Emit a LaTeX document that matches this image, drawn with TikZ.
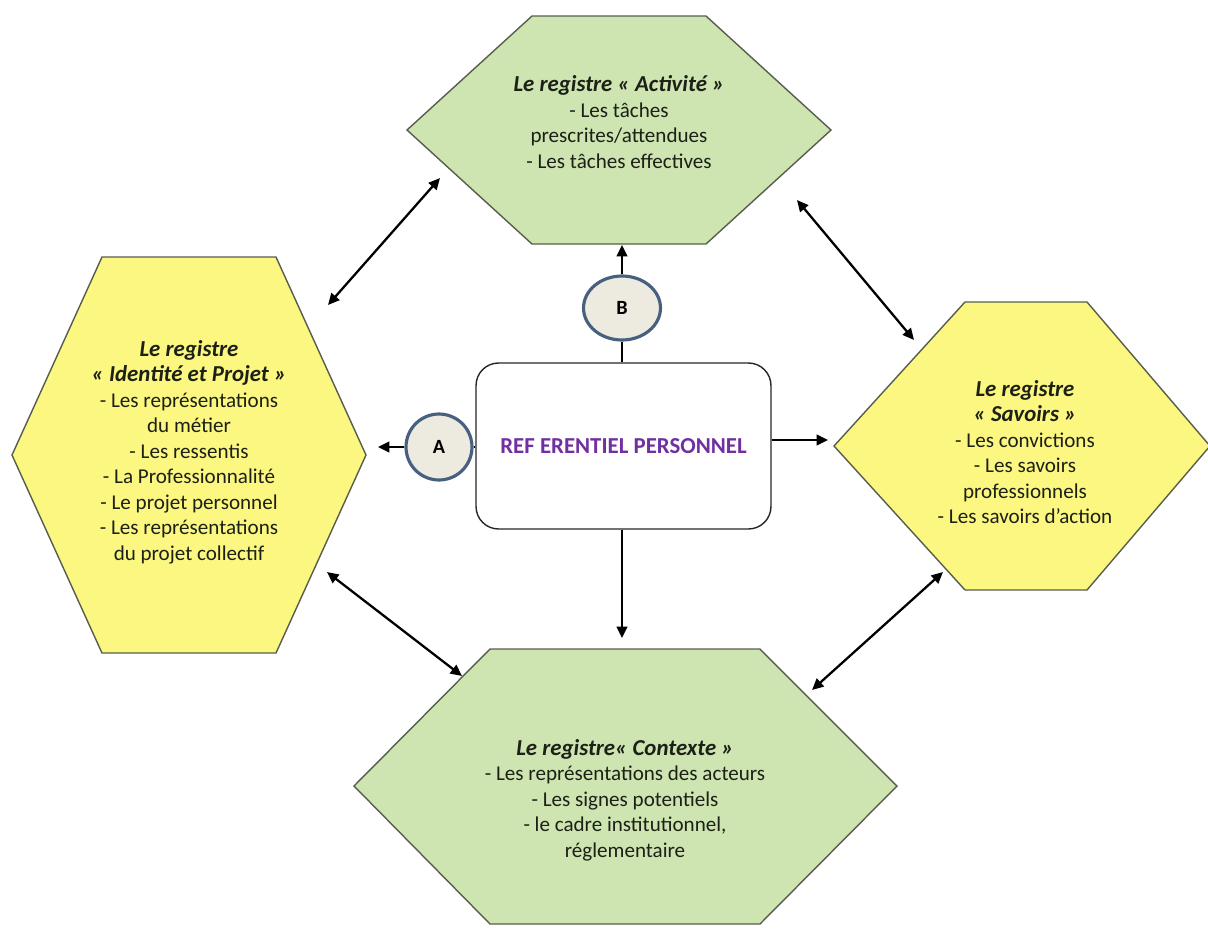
\documentclass[tikz,border=0pt]{standalone}
\usepackage{fontspec}
\setmainfont{Carlito}
\usepackage{xcolor}
\definecolor{leaf}{RGB}{206,229,178}
\definecolor{lemon}{RGB}{251,247,128}
\definecolor{rim}{RGB}{88,94,78}
\definecolor{ink}{RGB}{28,32,22}
\definecolor{plum}{RGB}{112,48,160}
\definecolor{slate}{RGB}{72,96,128}
\definecolor{shell}{RGB}{237,235,224}
\usetikzlibrary{arrows.meta,positioning,calc,shapes.geometric}
\newcommand{\regtitle}[1]{{\fontsize{13}{14.5}\selectfont\bfseries\itshape #1}}

\begin{document}
\begin{tikzpicture}[
  x=0.02cm, y=-0.02cm,
  hexline/.style={draw=rim,line width=0.8pt},
  regtext/.style={align=center,text=ink,inner sep=0pt,
                  font=\fontsize{12}{14.5}\selectfont},
  refbox/.style={rectangle,rounded corners=0.45cm,draw=black!85,fill=white,
                 line width=0.8pt,minimum width=5.9cm,minimum height=3.32cm,
                 font=\fontsize{13}{15}\selectfont\bfseries\color{plum}},
  badge/.style={ellipse,draw=slate,fill=shell,line width=1.8pt,inner sep=0pt,
                font=\fontsize{11.5}{13}\selectfont\bfseries},
  conn/.style={line width=1.3pt,-{Triangle[length=6.5pt,width=6pt]}},
  twoway/.style={line width=1.3pt,
                 {Triangle[length=6.5pt,width=6pt]}-{Triangle[length=6.5pt,width=6pt]}},
]
  \useasboundingbox (0,0) rectangle (1208,931);

  % the four registers
  \draw[hexline,fill=leaf] (407,130) -- (532,16) -- (706,16) -- (831,130)
    -- (706,244) -- (532,244) -- cycle;
  \draw[hexline,fill=lemon] (12,455) -- (102,257) -- (276,257) -- (366,455)
    -- (276,653) -- (102,653) -- cycle;
  \draw[hexline,fill=lemon] (834,446) -- (965,302) -- (1087,302) -- (1210,446)
    -- (1087,590) -- (965,590) -- cycle;
  \draw[hexline,fill=leaf] (354,786) -- (490,649) -- (760,649) -- (897,786)
    -- (760,924) -- (490,924) -- cycle;

  \node[regtext](act) at (619,122)
    {\regtitle{Le registre « Activité »}\\- Les tâches\\prescrites/attendues\\- Les tâches effectives};
  \node[regtext](ident) at (189,452)
    {\regtitle{Le registre}\\\regtitle{« Identité et Projet »}\\- Les représentations\\du métier\\- Les ressentis\\- La Professionnalité\\- Le projet personnel\\- Les représentations\\du projet collectif};
  \node[regtext](sav) at (1025,452)
    {\regtitle{Le registre}\\\regtitle{« Savoirs »}\\- Les convictions\\- Les savoirs\\professionnels\\- Les savoirs d’action};
  \node[regtext](ctx) at (625,800)
    {\regtitle{Le registre« Contexte »}\\- Les représentations des acteurs\\- Les signes potentiels\\- le cadre institutionnel,\\réglementaire};

  % centre
  \node[refbox](ref) at (623.5,446) {REF ERENTIEL PERSONNEL};
  \node[badge,minimum width=1.54cm,minimum height=1.28cm](B) at (622,308) {B};
  \node[badge,minimum width=1.32cm,minimum height=1.32cm](A) at (439,447) {A};

  \coordinate (actIn) at (622,245);
  \coordinate (identIn) at (378,447);
  \coordinate (savIn) at (828,440);
  \coordinate (ctxIn) at (622,638);

  \draw[line width=1.3pt] (B.south) -- (B.south |- ref.north);
  \draw[conn] (B.north) -- (actIn);
  \draw[line width=1.3pt] (A.east) -- (A.east -| ref.west);
  \draw[conn] (A.west) -- (identIn);
  \draw[conn] (ref.east |- savIn) -- (savIn);
  \draw[conn] (ref.south -| ctxIn) -- (ctxIn);

  % links between registers
  \coordinate (identNE) at (328,305);
  \coordinate (actSW) at (440,178);
  \coordinate (actSE) at (797,200);
  \coordinate (savNW) at (914,340);
  \coordinate (identSE) at (327,572);
  \coordinate (ctxNW) at (462,676);
  \coordinate (savSW) at (943,572);
  \coordinate (ctxNE) at (812,690);

  \draw[twoway] (identNE) -- (actSW);
  \draw[twoway] (actSE) -- (savNW);
  \draw[twoway] (identSE) -- (ctxNW);
  \draw[twoway] (savSW) -- (ctxNE);
\end{tikzpicture}
\end{document}
